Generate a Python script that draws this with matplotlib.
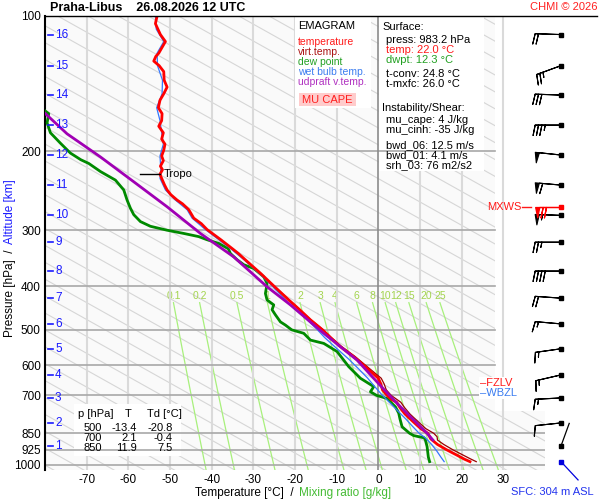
import numpy as np
import matplotlib
matplotlib.use('Agg')
import matplotlib.pyplot as plt
import matplotlib.transforms as mtransforms
from matplotlib.lines import Line2D
from matplotlib.patches import Rectangle
from matplotlib.ticker import FixedLocator, NullLocator

plt.rcParams['font.family'] = ['Liberation Sans', 'DejaVu Sans']
plt.rcParams['axes.unicode_minus'] = False

# sounding Praha-Libus 26.08.2026 12 UTC
temp_p = [983, 970, 950, 925, 900, 875, 850, 830, 800, 770, 745, 725, 715, 700, 680, 660, 641, 609, 574, 545,
          520, 500, 475, 450, 429, 400, 374, 350, 338, 330, 315, 299, 290, 282, 270, 262, 257, 250, 244, 238,
          230, 225, 220, 216, 210, 205, 199, 193, 188, 182, 176, 171, 165, 160, 154, 149, 144, 139, 133, 129,
          126, 123, 121, 117, 114, 110, 107, 104, 101, 100]
temp_t = [22.0, 20.6, 18.8, 16.4, 14.2, 12.6, 11.9, 10.2, 8.3, 6.4, 5.2, 4.4, 3.2, 2.1, 1.0, 0.6, 0.0, -2.7, -5.9, -9.1,
          -11.5, -13.4, -16.3, -19.0, -21.5, -25.0, -28.3, -31.8, -33.6, -35.0, -37.8, -41.1, -42.5, -44.3, -45.5, -47.0, -48.3, -49.8, -50.7, -51.3,
          -52.0, -52.4, -51.8, -52.3, -51.6, -52.0, -51.5, -51.2, -52.0, -51.6, -52.7, -52.0, -51.9, -52.8, -52.4, -51.5, -50.7, -51.4, -51.5, -52.6,
          -53.9, -53.4, -52.7, -51.8, -51.1, -52.3, -52.9, -53.5, -53.2, -53.1]

virt_p = [983, 970, 950, 925, 900, 880, 865, 850, 830, 800, 770, 745, 725, 700, 680, 660, 641, 609, 574, 545,
          520, 500, 475, 450, 429, 400]
virt_t = [23.5, 22.2, 20.3, 17.9, 15.7, 14.2, 14.1, 13.3, 11.4, 9.5, 7.6, 6.3, 5.4, 3.1, 1.9, 1.4, 0.7, -2.2, -5.5, -8.8,
          -11.3, -13.2, -16.2, -18.9, -21.4, -24.9]

dwpt_p = [983, 960, 910, 880, 870, 860, 850, 822, 790, 767, 742, 711, 700, 687, 669, 641, 604, 559, 536, 527,
          509, 500, 488, 480, 463, 451, 440, 429, 415, 394, 381, 365, 358, 349, 338, 330, 321, 315, 310, 305,
          300, 294, 287, 277, 268, 257, 244, 232, 222, 213, 209, 202, 192, 182, 173, 165, 160]
dwpt_t = [12.3, 12.0, 11.7, 11.3, 11.0, 8.5, 7.5, 5.7, 5.2, 4.9, 4.1, 2.1, -0.4, -1.9, -1.1, -4.3, -7.1, -9.9, -13.1, -16.3,
          -17.9, -20.8, -22.3, -23.5, -24.7, -25.5, -25.1, -26.7, -27.1, -26.7, -27.5, -29.9, -32.3, -33.9, -35.5, -36.0, -38.3, -41.1, -43.1, -46.7,
          -50.7, -54.7, -57.1, -58.7, -59.5, -60.3, -61.1, -63.1, -66.7, -69.5, -71.4, -73.9, -76.3, -78.7, -79.5, -79.1, -81.0]

wetb_p = [983, 960, 930, 900, 870, 850, 820, 790, 760, 730, 700, 670, 640, 610, 580, 550, 520, 500, 470, 440,
          400, 374, 350, 330, 299, 282, 270, 257, 244, 230, 220, 205, 193, 182, 171, 160, 149, 139, 129, 121,
          114, 107, 100]
wetb_t = [15.8, 15.0, 14.0, 12.8, 11.3, 9.8, 8.2, 6.6, 4.8, 3.0, 1.0, -0.8, -2.6, -4.8, -7.2, -10.0, -12.9, -14.6, -17.6, -21.1,
          -25.4, -28.6, -32.1, -35.4, -41.5, -44.7, -45.9, -48.7, -51.1, -52.4, -52.2, -52.4, -51.6, -52.0, -52.4, -53.2, -51.9, -51.8, -53.0, -53.1,
          -51.5, -53.3, -53.5]

parc_p = [880, 850, 794, 729, 658, 584, 509, 440, 401, 344, 305, 266, 234, 206, 183, 165, 150]
parc_t = [13.1, 11.7, 8.5, 4.5, 0.0, -5.1, -13.1, -21.1, -26.7, -34.7, -42.7, -50.7, -58.7, -66.7, -74.7, -79.9, -85.0]

# altitude marks [km] and their pressure
alt_km = list(range(1, 17))
alt_p = [907, 806, 709, 630, 551, 485, 425, 370, 319, 278, 238, 204, 175, 150, 129, 110]

# wind at altitude levels (dir deg, speed)
wind_dir = [20, 264, 267, 257, 262, 275, 274, 270, 270, 272, 275, 276, 270, 272, 250, 272]
wind_spd = [3, 10, 15, 15, 15, 15, 20, 40, 25, 55, 60, 50, 35, 30, 25, 20]
sfc_p, sfc_dir, sfc_spd = 983, 137, 2
mxws_p, mxws_dir, mxws_spd = 266, 270, 70

tropo_p = 225
isobars = [200, 300, 400, 500, 600, 700, 850, 925, 1000]
mix_ratios = [0.1, 0.2, 0.5, 1, 2, 3, 4, 6, 8, 10, 12, 15, 20, 25]

table_p = [500, 700, 850]
table_t = [-13.4, 2.1, 11.9]
table_td = [-20.8, -0.4, 7.5]

info_lines = [('Surface:', 'k', 0), ('press: 983.2 hPa', 'k', 1), ('temp: 22.0 \u00b0C', '#ff1a1a', 1),
              ('dwpt: 12.3 \u00b0C', '#22a022', 1), ('t-conv: 24.8 \u00b0C', 'k', 1), ('t-mxfc: 26.0 \u00b0C', 'k', 1),
              ('Instability/Shear:', 'k', 0), ('mu_cape: 4 J/kg', 'k', 1), ('mu_cinh: -35 J/kg', 'k', 1),
              ('bwd_06: 12.5 m/s', 'k', 1), ('bwd_01: 4.1 m/s', 'k', 1), ('srh_03: 76 m2/s2', 'k', 1)]
info_y = [27, 40, 50, 60, 74, 84, 108, 120, 130, 145, 155, 165]

legend_items = [('temperature', '#ff1a1a'), ('virt.temp.', '#aa1111'), ('dew point', '#22a022'),
                ('wet bulb temp.', '#3a7cf0'), ('udpraft v.temp.', '#b030c0')]

W, H = 600, 500


def fpos(px, py):
    return px / W, 1 - py / H


def fig_rect(x0, y0, x1, y1, **kw):
    return Rectangle(fpos(x0, y1), (x1 - x0) / W, (y1 - y0) / H, transform=fig.transFigure, **kw)


fig = plt.figure(figsize=(6, 5), dpi=100)
ax = fig.add_axes([45 / W, 30 / H, 500 / W, 454 / H])
ax.set_facecolor('#fafafa')
ax.set_yscale('log')
ax.set_xlim(-80, 40)
ax.set_ylim(1026, 100)

# background diagonal lines
slope = 0.56 * (500 / 120) / 449
step = 16.9 / 449
tt = np.array([-80.0, 40.0])
for n in range(-45, 40):
    lp = 2.0401 + n * step + slope * (tt + 47.5)
    ax.plot(tt, 10 ** lp, color='#d6d6d6', lw=0.8, zorder=1)

ax.add_patch(Rectangle((28, 100), 12, 660, facecolor='white', edgecolor='none', zorder=1.6))

for t in range(-70, 40, 10):
    if t == 0:
        ax.axvline(t, color='#8c8c8c', lw=1.2, zorder=2.6)
    else:
        ax.axvline(t, color='#dadada', lw=1.5, zorder=2)

# mixing ratio lines
pp = np.linspace(435, 1026, 60)
for w in mix_ratios:
    e = w * pp / (622.0 + w)
    g = np.log(e / 6.112)
    td = 243.5 * g / (17.67 - g)
    ax.plot(td, pp, color='#a8f07c', lw=0.9, zorder=1.5)
    ax.text(td[0], 420, '%g' % w, color='#a3d44e', fontsize=7.5, ha='center', va='center', zorder=1.5)

# boxes under the isobars
ax.add_patch(fig_rect(295, 17, 371, 108, facecolor='white', edgecolor='none', zorder=2.2, clip_on=False))
ax.add_patch(fig_rect(379, 17, 484, 171, facecolor='white', edgecolor='none', zorder=2.2, clip_on=False))
ax.add_patch(fig_rect(74, 404, 181, 456, facecolor='white', edgecolor='none', zorder=2.2, clip_on=False))

for p in isobars:
    right = 40 if p >= 850 else 28
    ax.plot([-80, right], [p, p], color='#a8a8a8', lw=1.2, zorder=2.5)

# profiles
ax.plot(dwpt_t, dwpt_p, color='#008a00', lw=2.0, zorder=3)
ax.plot(wetb_t, wetb_p, color='#3377ff', lw=0.9, zorder=3.1)
ax.plot(virt_t, virt_p, color='#990000', lw=0.9, zorder=3.2)
ax.plot(temp_t, temp_p, color='#ff0000', lw=2.0, zorder=3.3)
ax.plot(parc_t, parc_p, color='#a000b4', lw=2.0, zorder=3.4)

# tropopause mark
t_tropo = temp_t[temp_p.index(tropo_p)]
ax.plot([t_tropo - 4.8, t_tropo], [tropo_p, tropo_p], color='k', lw=1, zorder=4)
ax.text(t_tropo + 0.8, tropo_p, 'Tropo', fontsize=8, va='center', ha='left', zorder=4)

# axes look
ax.yaxis.set_major_locator(FixedLocator([100] + isobars))
ax.yaxis.set_minor_locator(NullLocator())
ax.set_yticklabels([str(p) for p in [100] + isobars])
ax.set_xticks(range(-70, 31, 10))
ax.tick_params(axis='y', length=0, pad=3, labelsize=8.5)
ax.tick_params(axis='x', length=0, pad=3, labelsize=8.5)
for s in ['top', 'right', 'bottom']:
    ax.spines[s].set_visible(False)
ax.spines['left'].set_linewidth(1.5)
fig.add_artist(Line2D([45 / W, 597 / W], [1 - 16 / H] * 2, color='k', lw=1))

# altitude marks
btr = mtransforms.blended_transform_factory(ax.transAxes, ax.transData)
for km, p in zip(alt_km, alt_p):
    ax.plot([2.5 / 500, 8 / 500], [p, p], color='#1a1aff', lw=1.2, transform=btr, zorder=4)
    ax.text(10 / 500, p, str(km), color='#1a1aff', fontsize=8.5, va='center', ha='left', transform=btr, zorder=4)

# texts
fig.text(*fpos(50, 8), 'Praha-Libus    26.08.2026 12 UTC', fontsize=9, fontweight='bold', va='center')
fig.text(*fpos(597, 7), 'CHMI \u00a9 2026', fontsize=8, color='#ff2020', va='center', ha='right')
fig.text(*fpos(10, 293), 'Pressure [hPa]  /', rotation=90, fontsize=8.5, va='center', ha='center')
fig.text(*fpos(10, 212), 'Altitude [km]', rotation=90, fontsize=8.5, va='center', ha='center', color='#1a1aff')
fig.text(*fpos(244, 493), 'Temperature [\u00b0C]  /', fontsize=8.5, va='center', ha='center')
fig.text(*fpos(345, 493), 'Mixing ratio [g/kg]', fontsize=8.5, va='center', ha='center', color='#44bb33')
fig.text(*fpos(552, 492), 'SFC: 304 m ASL', fontsize=8, va='center', ha='center', color='#2233ee')

fig.text(*fpos(298, 26), 'EMAGRAM', fontsize=8, va='center')
for i, (lab, col) in enumerate(legend_items):
    fig.text(*fpos(298, 42 + 10 * i), lab, fontsize=7.5, va='center', color=col)
fig.add_artist(fig_rect(299, 93, 356, 106, facecolor='#ffcccc', edgecolor='none'))
fig.text(*fpos(327, 100), 'MU CAPE', fontsize=8, va='center', ha='center', color='#ff2020')

for (txt, col, ind), y in zip(info_lines, info_y):
    fig.text(*fpos(382 + 4 * ind, y), txt, fontsize=8, va='center', color=col)

fig.text(*fpos(78, 414), 'p [hPa]', fontsize=8, va='center')
fig.text(*fpos(128, 414), 'T', fontsize=8, va='center', ha='center')
fig.text(*fpos(147, 414), 'Td [\u00b0C]', fontsize=8, va='center')
for i, (p, t, td) in enumerate(zip(table_p, table_t, table_td)):
    y = 428 + 10 * i
    fig.text(*fpos(102, y), str(p), fontsize=8, va='center', ha='right')
    fig.text(*fpos(137, y), '%.1f' % t, fontsize=8, va='center', ha='right')
    fig.text(*fpos(173, y), '%.1f' % td, fontsize=8, va='center', ha='right')

fig.add_artist(fig_rect(479, 377, 522, 399, facecolor='white', edgecolor='none'))
fig.text(*fpos(480, 383), '\u2013FZLV', fontsize=8, va='center', color='#ff1a1a')
fig.text(*fpos(480, 393), '\u2013WBZL', fontsize=8, va='center', color='#3a7cf0')

# wind barbs
bax = fig.add_axes([545 / W, 30 / H, 55 / W, 454 / H])
bax.set_yscale('log')
bax.set_ylim(1026, 100)
bax.set_xlim(0, 1)
bax.axis('off')
bx = 16 / 55
barb_sizes = dict(width=0.16, height=0.4, spacing=0.13)


def uv(d, s):
    r = np.deg2rad(np.asarray(d, dtype=float))
    s = np.asarray(s, dtype=float)
    return -s * np.sin(r), -s * np.cos(r)


def staff(p, d, length_px, color):
    x0, y0 = bax.transData.transform((bx, p))
    r = np.deg2rad(d)
    xe, ye = bax.transData.inverted().transform((x0 + length_px * np.sin(r), y0 + length_px * np.cos(r)))
    bax.plot([bx, xe], [p, ye], color=color, lw=0.9, clip_on=False)


strong = [i for i, s in enumerate(wind_spd) if s >= 5]
u, v = uv([wind_dir[i] for i in strong], [wind_spd[i] for i in strong])
bax.barbs([bx] * len(strong), [alt_p[i] for i in strong], u, v, length=6.1, pivot='tip', sizes=barb_sizes,
          linewidth=0.8, barbcolor='k', flagcolor='k', flip_barb=True, clip_on=False)
bax.plot([bx] * len(alt_p), alt_p, 's', ms=2.2, color='k', clip_on=False)
for i, s in enumerate(wind_spd):
    if s < 5:
        staff(alt_p[i], wind_dir[i], 24, 'k')

mu, mv = uv([mxws_dir], [mxws_spd])
bax.barbs([bx], [mxws_p], mu, mv, length=6.1, pivot='tip', linewidth=0.9, flip_barb=True, sizes=barb_sizes,
          barbcolor='#ff0000', flagcolor='#ff0000', clip_on=False, zorder=3)
bax.plot([bx], [mxws_p], 's', ms=2.2, color='#ff0000', clip_on=False)
fig.text(*fpos(487, 207), 'MXWS', fontsize=8, va='center', color='#ff1a1a')
fig.add_artist(Line2D([522 / W, 531 / W], [1 - 207 / H] * 2, color='#ff1a1a', lw=1))

staff(sfc_p, sfc_dir, 25, '#0000dd')
bax.plot([bx], [sfc_p], 's', ms=2.2, color='#0000dd', clip_on=False)

fig.savefig('out.png', dpi=100)
